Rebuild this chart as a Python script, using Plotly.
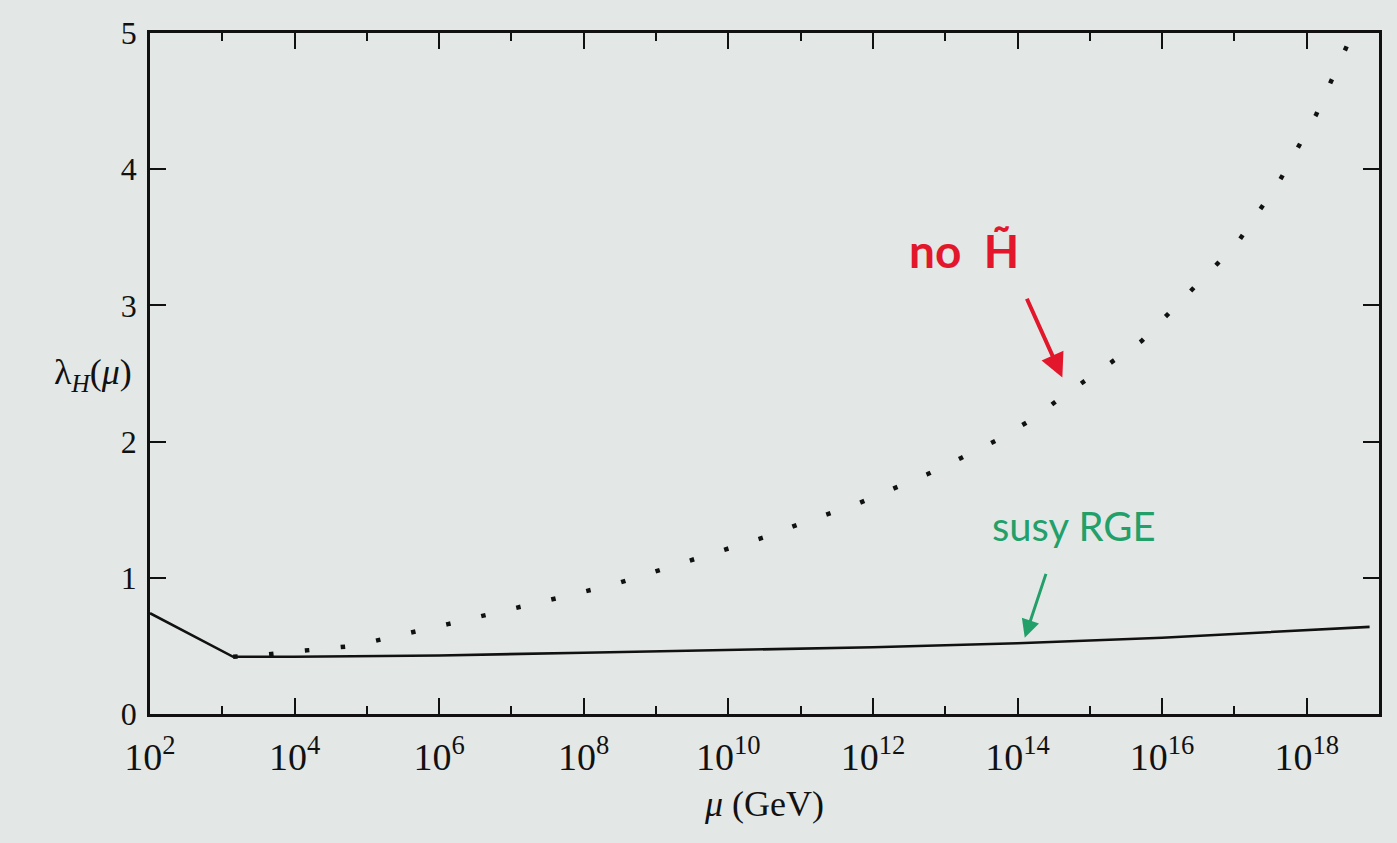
import numpy as np
import plotly.graph_objects as go

# Running Higgs quartic coupling lambda_H(mu), mu in GeV (log10 of mu given)
susy_log10_mu = [2.0, 3.15, 4.0, 6.0, 8.0, 10.0, 12.0, 14.0, 16.0, 18.87]
susy_lambda = [0.74, 0.42, 0.42, 0.43, 0.45, 0.47, 0.49, 0.52, 0.56, 0.64]

no_higgsino_log10_mu = [3.15, 3.5, 4.03, 4.56, 4.81, 6.12, 7.43, 7.94, 8.47, 8.95,
                        9.48, 9.99, 10.51, 11.01, 11.77, 12.26, 12.75, 13.22,
                        13.71, 14.19, 14.62, 15.72, 17.03, 17.62, 18.13, 18.56, 18.65]
no_higgsino_lambda = [0.42, 0.43, 0.46, 0.49, 0.50, 0.66, 0.82, 0.89, 0.96, 1.04,
                      1.13, 1.21, 1.30, 1.40, 1.54, 1.65, 1.76, 1.88,
                      2.01, 2.16, 2.33, 2.74, 3.45, 3.91, 4.40, 4.91, 5.0]

major_exponents = [2, 4, 6, 8, 10, 12, 14, 16, 18]
minor_exponents = [3, 5, 7, 9, 11, 13, 15, 17]
y_ticks = [0, 1, 2, 3, 4, 5]

BG = "#e3e8e7"
INK = "#111111"
SERIF = "Liberation Serif, DejaVu Serif, serif"
HAND = "Lato, Noto Sans, sans-serif"

fig = go.Figure()

fig.add_trace(go.Scatter(
    x=[10 ** e for e in no_higgsino_log10_mu], y=no_higgsino_lambda,
    mode="lines", line=dict(color=INK, width=4.5, dash="4.5px,31.5px"),
    hoverinfo="skip", showlegend=False,
))
fig.add_trace(go.Scatter(
    x=[10 ** e for e in susy_log10_mu], y=susy_lambda,
    mode="lines", line=dict(color=INK, width=2.6),
    hoverinfo="skip", showlegend=False,
))

fig.update_xaxes(
    type="log", range=[2, 19],
    tickvals=[10 ** e for e in major_exponents],
    ticktext=[f"10<sup>{e}</sup>" for e in major_exponents],
    ticks="inside", ticklen=16, tickwidth=2, tickcolor=INK,
    minor=dict(tickvals=[10 ** e for e in minor_exponents], ticks="inside",
               ticklen=8, tickwidth=2, tickcolor=INK, showgrid=False),
    showline=True, linecolor=INK, linewidth=2.5, mirror="ticks",
    showgrid=False, zeroline=False,
    ticklabelstandoff=8,
    tickfont=dict(family=SERIF, size=38, color=INK),
    title=dict(text="<i>μ</i> (GeV)", font=dict(family=SERIF, size=36, color=INK),
               standoff=14),
)
fig.update_yaxes(
    range=[0, 5], tickvals=y_ticks,
    ticks="inside", ticklen=16, tickwidth=2, tickcolor=INK,
    showline=True, linecolor=INK, linewidth=2.5, mirror="ticks",
    showgrid=False, zeroline=False,
    ticklabelstandoff=4,
    tickfont=dict(family=SERIF, size=32, color=INK),
)

annotations = [
    # y-axis label, horizontal, left of the frame
    dict(x=0, y=2.49, xref="paper", yref="y", xanchor="right", xshift=-16,
         text="λ<sub><i>H</i></sub>(<i>μ</i>)", showarrow=False,
         font=dict(family=SERIF, size=36, color=INK)),
    dict(x=13.26, y=3.40, xref="x", yref="y", text="<b>no  H\u0303</b>", showarrow=False,
         font=dict(family=HAND, size=46, color="#e3172b")),
    dict(x=14.62, y=2.47, xref="x", yref="y", ax=14.12, ay=3.06, axref="x", ayref="y",
         text="", showarrow=True, arrowhead=2, arrowsize=1.2, arrowwidth=4,
         arrowcolor="#e3172b"),
    dict(x=14.78, y=1.38, xref="x", yref="y", text="susy RGE", showarrow=False,
         font=dict(family=HAND, size=40, color="#23a06a")),
    dict(x=14.1, y=0.56, xref="x", yref="y", ax=14.4, ay=1.04, axref="x", ayref="y",
         text="", showarrow=True, arrowhead=2, arrowsize=1.2, arrowwidth=3,
         arrowcolor="#23a06a"),
]

fig.update_layout(
    width=1397, height=843,
    margin=dict(l=150, r=18, t=33, b=129),
    paper_bgcolor=BG, plot_bgcolor=BG,
    annotations=annotations,
)

fig.write_html("out.html")
